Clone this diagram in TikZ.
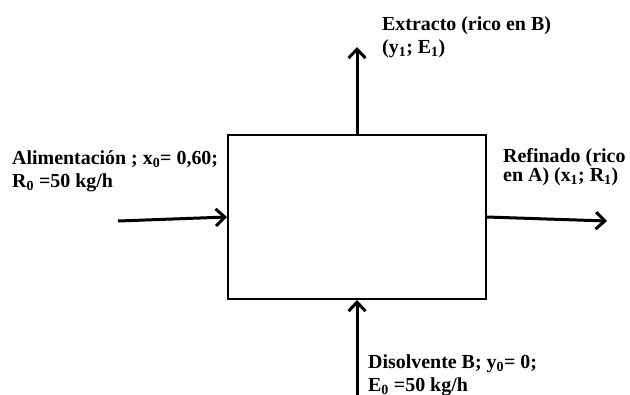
\documentclass[tikz,border=0pt]{standalone}
\usepackage{fontspec}
\setmainfont{Liberation Serif}
\usetikzlibrary{arrows.meta}

\tikzset{
  flow/.style={-{Straight Barb[length=9bp,width=17bp,line width=3bp]}, line width=3bp},
  tag/.style={font=\fontsize{20}{23}\selectfont\bfseries, align=left, anchor=base west, inner sep=0pt},
}

\begin{document}
\begin{tikzpicture}[x=1bp, y=-1bp]
    \useasboundingbox (0,0) rectangle (630,394);

    % equipo de extraccion
    \node[draw, line width=2bp, minimum width=258bp, minimum height=164bp, inner sep=0pt] (box) at (357,217) {};

    % corrientes
    \coordinate (feedin) at (118,221);
    \coordinate (raffout) at (607,221);
    \coordinate (extout) at (357,47);
    \coordinate (solvin) at (357,398);

    \draw[flow] (feedin) -- (box.west);
    \draw[flow] (box.east) -- (raffout);
    \draw[flow] (box.north) -- (extout);
    \draw[flow] (solvin) -- (box.south);

    % etiquetas (ancla en la linea de base de la ultima linea)
    \node[tag] (extlabel) at (382,53) {Extracto (rico en B)\\(y\textsubscript{1}; E\textsubscript{1})};
    \node[tag] (feedlabel) at (12,187) {Alimentación ; x\textsubscript{0}= 0,60;\\R\textsubscript{0} =50 kg/h};
    \node[tag] (raflabel) at (503,181) {Refinado (rico\\[-4bp]en A) (x\textsubscript{1}; R\textsubscript{1})};
    \node[tag] (solvlabel) at (368,391) {Disolvente B; y\textsubscript{0}= 0;\\E\textsubscript{0} =50 kg/h};
\end{tikzpicture}
\end{document}
